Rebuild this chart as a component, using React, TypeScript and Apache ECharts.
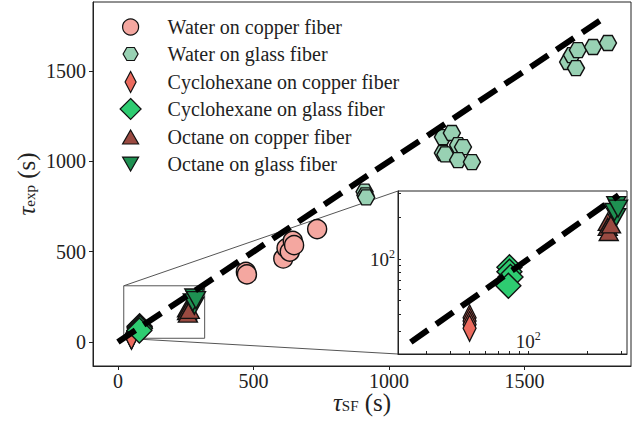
import React, { useEffect, useRef } from "react";
import * as echarts from "echarts";

const FONT = "'Liberation Serif', 'DejaVu Serif', serif";

// ---- data (seconds) ----
const waterCopperX = [472, 476, 610, 622, 634, 645, 650, 735];
const waterCopperY = [388, 374, 462, 520, 500, 560, 536, 625];

const waterGlassX = [910, 913, 916, 1199, 1232, 1255, 1273, 1199, 1208, 1255, 1306, 1661, 1675, 1697, 1690, 1753, 1808];
const waterGlassY = [832, 812, 800, 1134, 1157, 1090, 1079, 1046, 1038, 1007, 996, 1550, 1588, 1616, 1516, 1633, 1655];

const cycloCopperX = [50, 50, 50, 50];
const cycloCopperY = [37.5, 35.5, 33.5, 31.5];

const cycloGlassX = [80, 80, 81, 79];
const cycloGlassY = [87, 81, 74, 64];

const octaneCopperX = [255, 255, 258, 265];
const octaneCopperY = [186, 171, 157, 178];

const octaneGlassX = [282, 282, 276, 288];
const octaneGlassY = [246, 201, 219, 232];

const identityX = [0, 1800];
const identityInsetX = [25, 290];

const mainTicks = [0, 500, 1000, 1500];
const insetXRange = [21.5, 320];
const insetYRange = [20.5, 311];
const insetXTicks = [30, 40, 50, 60, 70, 80, 90, 100, 200, 300];
const insetYTicks = [30, 40, 50, 60, 70, 80, 90, 100, 200, 300];
const insetLabelTicks = [100];

const names = [
  "Water on copper fiber",
  "Water on glass fiber",
  "Cyclohexane on copper fiber",
  "Cyclohexane on glass fiber",
  "Octane on copper fiber",
  "Octane on glass fiber",
];

const HEX = "path://M0,5 L2.887,0 L8.66,0 L11.547,5 L8.66,10 L2.887,10 Z";
const DOWN = "path://M0,0 L10,0 L5,8.66 Z";

const styles = [
  { color: "#f4a7a0", symbol: "circle", size: 19, legendW: 16, legendH: 16 },
  { color: "#98d1b3", symbol: HEX, size: [17, 15], legendW: 15, legendH: 13 },
  { color: "#ec6b5e", symbol: "diamond", size: [13, 26], legendW: 11, legendH: 21 },
  { color: "#2ecc71", symbol: "diamond", size: [25, 25], legendW: 21, legendH: 21 },
  { color: "#9a4a41", symbol: "triangle", size: [19, 17], legendW: 16, legendH: 14 },
  { color: "#1e9152", symbol: DOWN, size: [19, 17], legendW: 16, legendH: 14 },
];

const zip = (xs: number[], ys: number[]) => xs.map((x, i) => [x, ys[i]]);

const seriesData = [
  zip(waterCopperX, waterCopperY),
  zip(waterGlassX, waterGlassY),
  zip(cycloCopperX, cycloCopperY),
  zip(cycloGlassX, cycloGlassY),
  zip(octaneCopperX, octaneCopperY),
  zip(octaneGlassX, octaneGlassY),
];

const supRich = {
  b: { fontFamily: FONT, fontSize: 19, color: "#222", lineHeight: 22 },
  p: { fontFamily: FONT, fontSize: 12, color: "#222", verticalAlign: "top", lineHeight: 12 },
};

const nameRich = {
  t: { fontFamily: FONT, fontSize: 25, fontStyle: "italic", color: "#222", lineHeight: 22 },
  s: { fontFamily: FONT, fontSize: 15, color: "#222", verticalAlign: "bottom", lineHeight: 12 },
  u: { fontFamily: FONT, fontSize: 25, color: "#222", lineHeight: 22 },
};

const DASH = { color: "#000", width: 6, type: [21, 10], cap: "butt" };

export default function App() {
  const ref = useRef<HTMLDivElement>(null);
  useEffect(() => {
    if (!ref.current) return;
    const chart = echarts.init(ref.current, undefined, { renderer: "svg" });

    const scatterMain = names.map((name, i) => ({
      type: "scatter",
      name,
      xAxisIndex: 0,
      yAxisIndex: 0,
      data: seriesData[i],
      symbol: styles[i].symbol,
      symbolSize: styles[i].size,
      itemStyle: { color: styles[i].color, borderColor: "#111", borderWidth: 1.4, opacity: 1 },
      z: 3,
    }));
    const scatterInset = [2, 3, 4, 5].map((i) => ({
      type: "scatter",
      name: names[i],
      xAxisIndex: 1,
      yAxisIndex: 1,
      data: seriesData[i],
      symbol: styles[i].symbol,
      symbolSize: styles[i].size,
      clip: true,
      itemStyle: { color: styles[i].color, borderColor: "#111", borderWidth: 1.4, opacity: 1 },
      z: 13,
    }));

    const rectData = [
      [insetXRange[0], insetYRange[0]],
      [insetXRange[1], insetYRange[0]],
      [insetXRange[1], insetYRange[1]],
      [insetXRange[0], insetYRange[1]],
      [insetXRange[0], insetYRange[0]],
    ];

    const legendTops = [27, 54, 82, 109, 137, 164];
    const legends = names.map((name, i) => {
      const w = styles[i].legendW;
      const h = styles[i].legendH;
      return {
        data: [{ name, icon: styles[i].symbol }],
        left: 130 - w / 2,
        top: legendTops[i] - 12,
        padding: 0,
        itemWidth: w,
        itemHeight: h,
        itemGap: 0,
        selectedMode: false,
        itemStyle: { borderColor: "#111", borderWidth: 1.2 },
        textStyle: {
          fontFamily: FONT,
          fontSize: 20,
          color: "#222",
          lineHeight: 24,
          padding: [0, 0, 0, 167 - (130 + w / 2) - 5],
        },
      };
    });

    chart.setOption({
      animation: false,
      backgroundColor: "#fff",
      legend: legends,
      grid: [
        {
          left: 93, right: 13, top: 2, bottom: 55,
          outerBoundsMode: "none", containLabel: false,
          show: true, borderColor: "#222", borderWidth: 1, backgroundColor: "transparent",
        },
        {
          left: 398, top: 191, width: 229, height: 163,
          outerBoundsMode: "none", containLabel: false,
          show: true, borderColor: "#222", borderWidth: 1, backgroundColor: "#fff",
          z: 10,
        },
      ],
      xAxis: [
        {
          type: "value", gridIndex: 0, min: -92, max: 1893,
          splitLine: { show: false },
          axisLine: { show: true, onZero: false, lineStyle: { color: "#222", width: 1 } },
          axisTick: { show: true, inside: false, length: 4, customValues: mainTicks, lineStyle: { color: "#222" } },
          axisLabel: {
            customValues: mainTicks, fontFamily: FONT, fontSize: 20, color: "#222", margin: 6, lineHeight: 18,
            formatter: (v: number) => String(v),
          },
          name: "{t|τ}{s|SF}{u| (s)}",
          nameLocation: "middle",
          nameGap: 25,
          nameMoveOverlap: false,
          nameTextStyle: { rich: nameRich },
        },
        {
          type: "log", gridIndex: 1, min: insetXRange[0], max: insetXRange[1], logBase: 10,
          splitLine: { show: false },
          axisLine: { show: true, onZero: false, lineStyle: { color: "#222", width: 1 } },
          axisTick: { show: true, inside: true, length: 3, customValues: insetXTicks, lineStyle: { color: "#222" } },
          axisLabel: {
            customValues: insetLabelTicks, inside: true, margin: 2,
            formatter: () => "{b|10}{p|2}", rich: supRich,
          },
          z: 11,
        },
      ],
      yAxis: [
        {
          type: "value", gridIndex: 0, min: -133, max: 1882,
          splitLine: { show: false },
          axisLine: { show: true, onZero: false, lineStyle: { color: "#222", width: 1 } },
          axisTick: { show: true, inside: false, length: 4, customValues: mainTicks, lineStyle: { color: "#222" } },
          axisLabel: {
            customValues: mainTicks, fontFamily: FONT, fontSize: 20, color: "#222", margin: 7,
            formatter: (v: number) => String(v),
          },
          name: "{t|τ}{s|exp}{u| (s)}",
          nameLocation: "middle",
          nameRotate: 90,
          nameGap: 56,
          nameMoveOverlap: false,
          nameTextStyle: { rich: nameRich },
        },
        {
          type: "log", gridIndex: 1, min: insetYRange[0], max: insetYRange[1], logBase: 10,
          splitLine: { show: false },
          axisLine: { show: true, onZero: false, lineStyle: { color: "#222", width: 1 } },
          axisTick: { show: true, inside: true, length: 3, customValues: insetYTicks, lineStyle: { color: "#222" } },
          axisLabel: {
            customValues: insetLabelTicks, margin: 3,
            formatter: () => "{b|10}{p|2}", rich: supRich,
          },
          z: 11,
        },
      ],
      series: [
        {
          type: "line", name: "zoom box", xAxisIndex: 0, yAxisIndex: 0, data: rectData,
          symbol: "none", silent: true, lineStyle: { color: "#555", width: 1 }, z: 1,
        },
        ...scatterMain,
        {
          type: "line", name: "identity", xAxisIndex: 0, yAxisIndex: 0,
          data: identityX.map((v) => [v, v]), symbol: "none", silent: true,
          lineStyle: DASH, z: 5,
        },
        ...scatterInset,
        {
          type: "line", name: "identity inset", xAxisIndex: 1, yAxisIndex: 1,
          data: identityInsetX.map((v) => [v, v]), symbol: "none", silent: true, clip: true,
          lineStyle: DASH, z: 14,
        },
      ],
    });

    const cornerTop = [insetXRange[0], insetYRange[1]];
    const cornerBot = [insetXRange[0], insetYRange[0]];
    const a1 = chart.convertToPixel({ xAxisIndex: 0, yAxisIndex: 0 }, cornerTop) as number[];
    const b1 = chart.convertToPixel({ xAxisIndex: 1, yAxisIndex: 1 }, cornerTop) as number[];
    const a2 = chart.convertToPixel({ xAxisIndex: 0, yAxisIndex: 0 }, cornerBot) as number[];
    const b2 = chart.convertToPixel({ xAxisIndex: 1, yAxisIndex: 1 }, cornerBot) as number[];
    if (a1 && b1 && a2 && b2) {
      chart.setOption({
        graphic: [
          { type: "line", shape: { x1: a1[0], y1: a1[1], x2: b1[0], y2: b1[1] }, style: { stroke: "#555", lineWidth: 1 }, z: 1, silent: true },
          { type: "line", shape: { x1: a2[0], y1: a2[1], x2: b2[0], y2: b2[1] }, style: { stroke: "#555", lineWidth: 1 }, z: 1, silent: true },
        ],
      });
    }

    return () => chart.dispose();
  }, []);

  return <div ref={ref} style={{ position: "fixed", left: 0, top: 0, width: 644, height: 421 }} />;
}
